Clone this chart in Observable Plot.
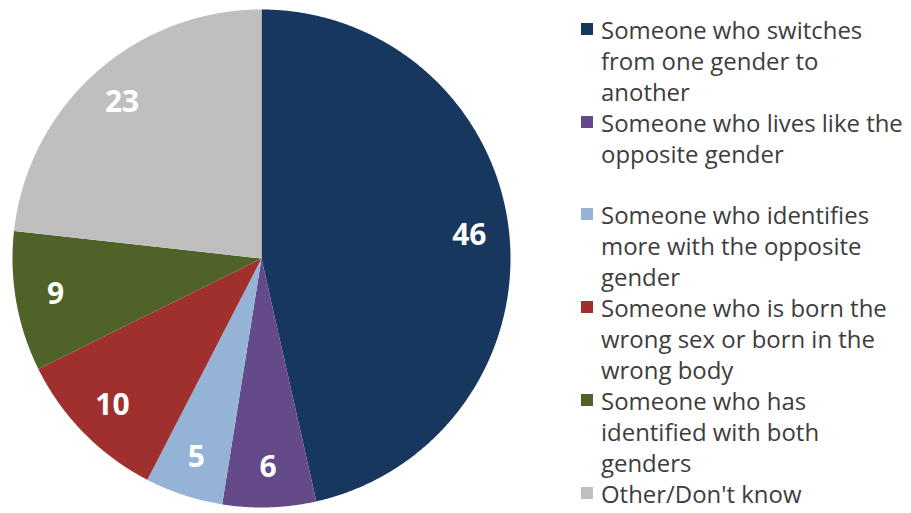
<!DOCTYPE html>
<html><head><meta charset="utf-8">
<script src="https://cdn.jsdelivr.net/npm/d3@7"></script>
<script src="https://cdn.jsdelivr.net/npm/@observablehq/plot@0.6"></script>
<style>
body{margin:0;background:#fff;}
#wrap{position:relative;width:911px;height:513px;overflow:hidden;}
#legend{position:absolute;left:580px;top:15px;font-family:"Open Sans",sans-serif;color:#3d3d3d;}
.entry{position:relative;padding-left:21px;line-height:30.9px;white-space:nowrap;}
.sw{position:absolute;left:1px;top:8px;width:12px;height:12px;}
</style></head><body><div id="wrap"></div>
<script>
const categories = [
  "Someone who switches from one gender to another",
  "Someone who lives like the opposite gender",
  "Someone who identifies more with the opposite gender",
  "Someone who is born the wrong sex or born in the wrong body",
  "Someone who has identified with both genders",
  "Other/Don't know"
];
const values = [46, 6, 5, 10, 9, 23];
const colors = ["#17375E", "#644A88", "#95B3D7", "#A0302E", "#4F6228", "#BFBFBF"];
const legendLines = [
  ["Someone who switches", "from one gender to", "another"],
  ["Someone who lives like the", "opposite gender", ""],
  ["Someone who identifies", "more with the opposite", "gender"],
  ["Someone who is born the", "wrong sex or born in the", "wrong body"],
  ["Someone who has", "identified with both", "genders"],
  ["Other/Don't know"]
];

const data = categories.map((c, i) => ({category: c, value: values[i], color: colors[i]}));
const arcs = d3.pie().sort(null).value(d => d.value)(data);

// polygon outline of each slice (unit circle, angle clockwise from top)
const pts = [];
arcs.forEach(a => {
  const key = a.data.category;
  pts.push({key, x: 0, y: 0});
  const n = Math.max(2, Math.ceil((a.endAngle - a.startAngle) / 0.005));
  for (let k = 0; k <= n; k++) {
    const t = a.startAngle + (a.endAngle - a.startAngle) * k / n;
    pts.push({key, x: Math.sin(t), y: Math.cos(t)});
  }
});
const labels = arcs.map(a => {
  const m = (a.startAngle + a.endAngle) / 2;
  return {x: 0.84 * Math.sin(m), y: 0.84 * Math.cos(m), text: String(a.data.value)};
});

const chart = Plot.plot({
  width: 911, height: 513,
  marginLeft: 12, marginRight: 401, marginTop: 9, marginBottom: 6,
  x: {domain: [-1, 1], axis: null},
  y: {domain: [-1, 1], axis: null},
  color: {domain: categories, range: colors},
  style: {background: "white"},
  marks: [
    Plot.line(pts, {x: "x", y: "y", z: "key", fill: "key", stroke: "none", curve: "linear-closed"}),
    Plot.text(labels, {x: "x", y: "y", text: "text", fill: "white", fontSize: 30, fontWeight: "bold",
      fontFamily: "'Open Sans', sans-serif"})
  ]
});
const wrap = document.getElementById("wrap");
wrap.appendChild(chart);

const legend = document.createElement("div");
legend.id = "legend";
data.forEach((d, i) => {
  const e = document.createElement("div");
  e.className = "entry";
  const sw = document.createElement("span");
  sw.className = "sw";
  sw.style.background = d.color;
  e.appendChild(sw);
  legendLines[i].forEach(l => {
    const ln = document.createElement("div");
    ln.textContent = l === "" ? "\u00a0" : l;
    e.appendChild(ln);
  });
  legend.appendChild(e);
});
wrap.appendChild(legend);
// fit font so the widest line spans about 302px as in the source
const cv = document.createElement("canvas").getContext("2d");
cv.font = "20px 'Open Sans'";
const w20 = cv.measureText("Someone who lives like the").width;
legend.style.fontSize = (20 * 302 / w20).toFixed(2) + "px";
</script>
</body></html>
